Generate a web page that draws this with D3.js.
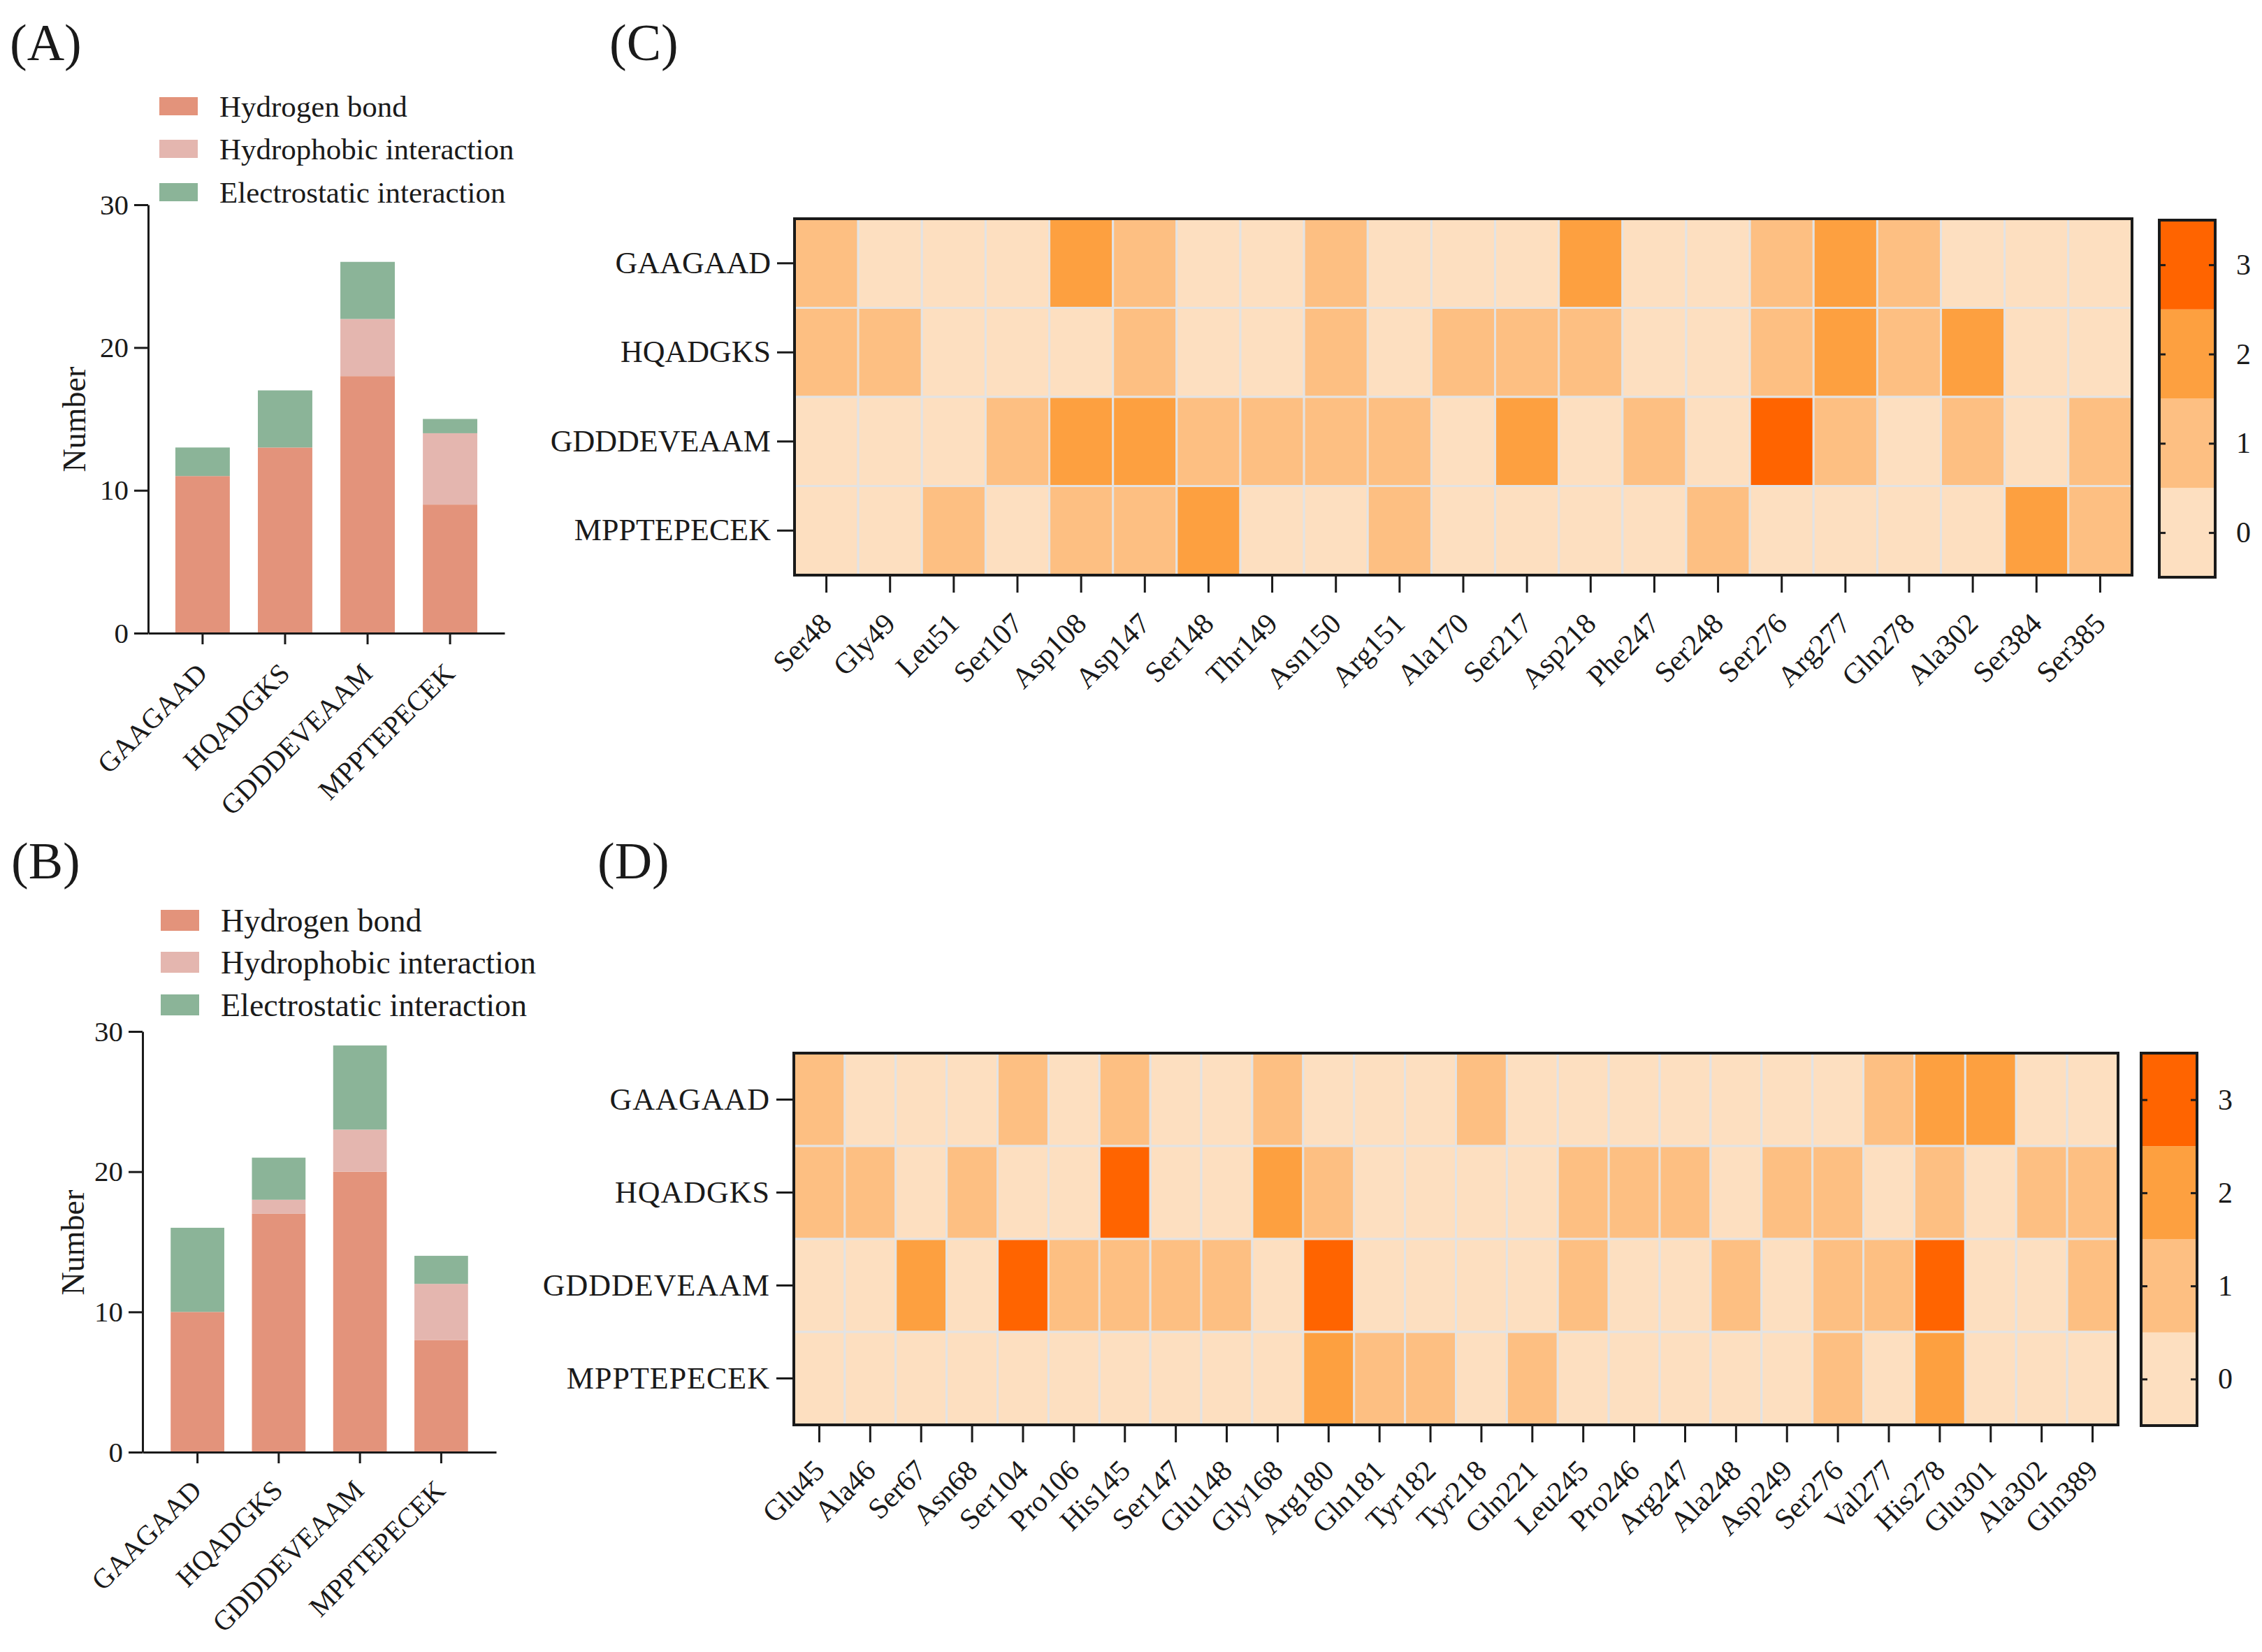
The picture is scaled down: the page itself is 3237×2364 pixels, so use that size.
<!DOCTYPE html>
<html>
<head>
<meta charset="utf-8">
<script src="https://cdn.jsdelivr.net/npm/d3@7"></script>
<style>
  body { margin: 0; background: #fff; }
  text { font-family: "Liberation Serif", "Times New Roman", serif; }
</style>
</head>
<body>
<svg id="fig"></svg>
<script>
// ---- data ----
const peptides = ["GAAGAAD", "HQADGKS", "GDDDEVEAAM", "MPPTEPECEK"];
const seriesKeys = ["hbond", "hydro", "elec"];
const seriesNames = ["Hydrogen bond", "Hydrophobic interaction", "Electrostatic interaction"];
const seriesColors = ["#E3937B", "#E4B6AF", "#8BB498"];
const yTicks = [0, 10, 20, 30];

// panel A
const hbondA = [11, 13, 18, 9];
const hydroA = [0, 0, 4, 5];
const elecA = [2, 4, 4, 1];
// panel B
const hbondB = [10, 17, 20, 8];
const hydroB = [0, 1, 3, 4];
const elecB = [6, 3, 6, 2];

// panel C
const residuesC = ["Ser48", "Gly49", "Leu51", "Ser107", "Asp108", "Asp147", "Ser148", "Thr149",
  "Asn150", "Arg151", "Ala170", "Ser217", "Asp218", "Phe247", "Ser248", "Ser276", "Arg277",
  "Gln278", "Ala302", "Ser384", "Ser385"];
const heatC = [
  [1, 0, 0, 0, 2, 1, 0, 0, 1, 0, 0, 0, 2, 0, 0, 1, 2, 1, 0, 0, 0],
  [1, 1, 0, 0, 0, 1, 0, 0, 1, 0, 1, 1, 1, 0, 0, 1, 2, 1, 2, 0, 0],
  [0, 0, 0, 1, 2, 2, 1, 1, 1, 1, 0, 2, 0, 1, 0, 3, 1, 0, 1, 0, 1],
  [0, 0, 1, 0, 1, 1, 2, 0, 0, 1, 0, 0, 0, 0, 1, 0, 0, 0, 0, 2, 1]
];

// panel D
const residuesD = ["Glu45", "Ala46", "Ser67", "Asn68", "Ser104", "Pro106", "His145", "Ser147",
  "Glu148", "Gly168", "Arg180", "Gln181", "Tyr182", "Tyr218", "Gln221", "Leu245", "Pro246",
  "Arg247", "Ala248", "Asp249", "Ser276", "Val277", "His278", "Glu301", "Ala302", "Gln389"];
const heatD = [
  [1, 0, 0, 0, 1, 0, 1, 0, 0, 1, 0, 0, 0, 1, 0, 0, 0, 0, 0, 0, 0, 1, 2, 2, 0, 0],
  [1, 1, 0, 1, 0, 0, 3, 0, 0, 2, 1, 0, 0, 0, 0, 1, 1, 1, 0, 1, 1, 0, 1, 0, 1, 1],
  [0, 0, 2, 0, 3, 1, 1, 1, 1, 0, 3, 0, 0, 0, 0, 1, 0, 0, 1, 0, 1, 1, 3, 0, 0, 1],
  [0, 0, 0, 0, 0, 0, 0, 0, 0, 0, 2, 1, 1, 0, 1, 0, 0, 0, 0, 0, 1, 0, 2, 0, 0, 0]
];

const levels = [0, 1, 2, 3];
const levelColors = ["#FDDFC0", "#FDBF82", "#FDA040", "#FF6400"];

// ---- drawing ----
const serif = '"Liberation Serif", "Times New Roman", serif';
const ink = "#1a1a1a";
const svg = d3.select("#fig").attr("width", 3237).attr("height", 2364);

function panelLabel(txt, x, y) {
  svg.append("text").attr("x", x).attr("y", y)
    .attr("font-size", 74).attr("fill", ink).text(txt);
}

function styleAxis(g, fs) {
  g.attr("font-family", serif).attr("font-size", fs);
  g.selectAll("path, line").attr("stroke", ink).attr("stroke-width", 3);
  g.selectAll("text").attr("fill", ink);
}

function drawBars(cfg, hb, hp, el) {
  const rows = peptides.map((p, i) => ({ peptide: p, hbond: hb[i], hydro: hp[i], elec: el[i] }));
  const stacked = d3.stack().keys(seriesKeys)(rows);

  const x = d3.scaleBand().domain(peptides).range([cfg.x0, cfg.x1])
    .paddingInner(0.34).paddingOuter(cfg.po);
  const y = d3.scaleLinear().domain([0, 30]).range([cfg.y0, cfg.y1]);
  const color = d3.scaleOrdinal(seriesKeys, seriesColors);

  const g = svg.append("g");

  g.selectAll("g.layer")
    .data(stacked)
    .join("g")
    .attr("class", "layer")
    .attr("fill", d => color(d.key))
    .selectAll("rect")
    .data(d => d)
    .join("rect")
    .attr("x", d => x(d.data.peptide))
    .attr("width", x.bandwidth())
    .attr("y", d => y(d[1]))
    .attr("height", d => y(d[0]) - y(d[1]));

  // y axis
  const ya = g.append("g")
    .attr("transform", `translate(${cfg.x0},0)`)
    .call(d3.axisLeft(y).tickValues(yTicks).tickSize(20).tickSizeOuter(0).tickPadding(8));
  styleAxis(ya, 41);

  // x axis with rotated labels
  const xa = g.append("g")
    .attr("transform", `translate(0,${cfg.y0})`)
    .call(d3.axisBottom(x).tickSize(16).tickSizeOuter(0));
  styleAxis(xa, 40);
  xa.selectAll(".tick text")
    .attr("x", 0).attr("y", 0).attr("dy", 0)
    .attr("text-anchor", "end")
    .attr("transform", `translate(${cfg.lab[0]},${cfg.lab[1]}) rotate(-45)`);

  // y title
  svg.append("text")
    .attr("transform", `translate(${cfg.title[0]},${cfg.title[1]}) rotate(-90)`)
    .attr("text-anchor", "middle")
    .attr("font-size", 46)
    .attr("fill", ink)
    .text("Number");

  // legend
  const lg = svg.append("g");
  const items = lg.selectAll("g")
    .data(seriesNames)
    .join("g")
    .attr("transform", (d, i) => `translate(${cfg.legX},${cfg.legY[i]})`);
  items.append("rect")
    .attr("x", 0).attr("y", -cfg.legH / 2)
    .attr("width", 55).attr("height", cfg.legH)
    .attr("fill", (d, i) => seriesColors[i]);
  items.append("text")
    .attr("x", 86).attr("y", 0)
    .attr("dominant-baseline", "central")
    .attr("font-size", cfg.legFs)
    .attr("fill", ink)
    .text(d => d);
}

function drawHeat(cfg, residues, matrix) {
  const x = d3.scaleBand().domain(residues).range([cfg.x0, cfg.x1]);
  const y = d3.scaleBand().domain(peptides).range([cfg.y0, cfg.y1]);
  const color = d3.scaleOrdinal(levels, levelColors);

  const cells = peptides.flatMap((p, i) => residues.map((r, j) => ({ p, r, v: matrix[i][j] })));

  const g = svg.append("g");
  g.selectAll("rect.cell")
    .data(cells)
    .join("rect")
    .attr("class", "cell")
    .attr("x", d => x(d.r))
    .attr("y", d => y(d.p))
    .attr("width", x.bandwidth())
    .attr("height", y.bandwidth())
    .attr("fill", d => color(d.v))
    .attr("stroke", "#e3e3e3")
    .attr("stroke-width", 3);

  g.append("rect")
    .attr("x", cfg.x0).attr("y", cfg.y0)
    .attr("width", cfg.x1 - cfg.x0).attr("height", cfg.y1 - cfg.y0)
    .attr("fill", "none").attr("stroke", ink).attr("stroke-width", 4);

  const ya = g.append("g")
    .attr("transform", `translate(${cfg.x0},0)`)
    .call(d3.axisLeft(y).tickSize(25).tickSizeOuter(0).tickPadding(9));
  ya.select(".domain").remove();
  styleAxis(ya, 44);
  ya.selectAll(".tick text").attr("letter-spacing", cfg.rowSpacing);

  const xa = g.append("g")
    .attr("transform", `translate(0,${cfg.y1})`)
    .call(d3.axisBottom(x).tickSize(25).tickSizeOuter(0));
  xa.select(".domain").remove();
  styleAxis(xa, 42);
  xa.selectAll(".tick text")
    .attr("x", 0).attr("y", 0).attr("dy", 0)
    .attr("text-anchor", "end")
    .attr("transform", `translate(10,${cfg.labDy}) rotate(-45)`);

  // colour bar
  const cb = cfg.cb;
  const cy = d3.scaleLinear().domain([-0.5, 3.5]).range([cb.y1, cb.y0]);
  g.selectAll("rect.cb")
    .data(levels)
    .join("rect")
    .attr("class", "cb")
    .attr("x", cb.x0)
    .attr("width", cb.x1 - cb.x0)
    .attr("y", d => cy(d + 0.5))
    .attr("height", d => cy(d - 0.5) - cy(d + 0.5))
    .attr("fill", d => color(d));

  const cr = g.append("g")
    .attr("transform", `translate(${cb.x1},0)`)
    .call(d3.axisRight(cy).tickValues(levels).tickFormat(d3.format("d")).tickSize(-9).tickPadding(30));
  cr.select(".domain").remove();
  styleAxis(cr, 42);

  const cl = g.append("g")
    .attr("transform", `translate(${cb.x0},0)`)
    .call(d3.axisLeft(cy).tickValues(levels).tickFormat("").tickSize(-9));
  cl.select(".domain").remove();
  styleAxis(cl, 42);

  g.append("rect")
    .attr("x", cb.x0).attr("y", cb.y0)
    .attr("width", cb.x1 - cb.x0).attr("height", cb.y1 - cb.y0)
    .attr("fill", "none").attr("stroke", ink).attr("stroke-width", 4);
}

// panel labels
panelLabel("(A)", 14, 86);
panelLabel("(B)", 16, 1257);
panelLabel("(C)", 872, 86);
panelLabel("(D)", 855, 1257);

drawBars({
  x0: 212, x1: 722, y0: 906, y1: 293, po: 0.33,
  lab: [9, 60], title: [122, 600],
  legX: 228, legY: [152, 213, 275], legH: 26, legFs: 43
}, hbondA, hydroA, elecA);

drawBars({
  x0: 204, x1: 710, y0: 2078, y1: 1476, po: 0.346,
  lab: [8, 57], title: [120, 1778],
  legX: 230, legY: [1317, 1377, 1438], legH: 30, legFs: 46
}, hbondB, hydroB, elecB);

drawHeat({
  x0: 1137, x1: 3051, y0: 313, y1: 823, labDy: 72, rowSpacing: 0,
  cb: { x0: 3090, x1: 3170, y0: 315, y1: 826 }
}, residuesC, heatC);

drawHeat({
  x0: 1136, x1: 3031, y0: 1507, y1: 2039, labDy: 68, rowSpacing: 1,
  cb: { x0: 3064, x1: 3144, y0: 1507, y1: 2040 }
}, residuesD, heatD);
</script>
</body>
</html>
